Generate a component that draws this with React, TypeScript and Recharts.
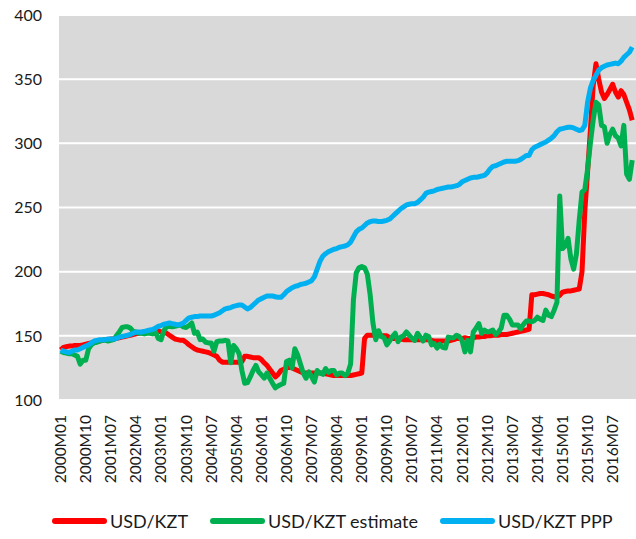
import { LineChart, Line, XAxis, YAxis, CartesianGrid, Legend } from 'recharts';

// monthly values, 2000M01 .. 2017M02
const usdKzt = [
  139, 141, 141.5, 142, 142, 142.5, 142.5, 142.5, 143, 143.5, 144, 144.5, // 2000
  145, 145.5, 146, 146.5, 147, 147, 147.5, 147.5, 148, 148.5, 149, 149.5, // 2001
  150, 150.5, 151, 151.5, 152, 152.5, 153, 153, 153.5, 153.5, 154, 154, // 2002
  153, 153, 152, 150.5, 149, 147.5, 147, 146.5, 146.5, 145, 143, 141.5, // 2003
  140, 139, 138.5, 138, 137.5, 137, 136, 135, 134, 131, 129.5, 129.5, // 2004
  129.5, 129.5, 129.5, 129.5, 129.5, 130, 134, 134, 133.5, 133, 133, 133, // 2005
  131.5, 129, 127, 124, 121, 118, 120, 123, 124, 125, 125.5, 125, // 2006
  124, 123, 122, 121, 121, 121, 121, 121, 121, 121, 121, 120.5, // 2007
  120, 119.5, 119, 119, 119, 119, 119, 119, 119, 119.5, 120, 120.5, // 2008
  121, 148, 150.5, 150.5, 150.5, 150, 150, 150, 150, 150, 148.5, 148, // 2009
  148, 148, 147.5, 147, 147, 147, 147, 147, 147, 147, 147, 147, // 2010
  147, 146.5, 146, 146, 146, 146, 146, 146, 146.5, 147, 148, 148, // 2011
  148, 148.5, 148, 148, 148.5, 149, 149, 149.5, 149.5, 150, 150, 150.5, // 2012
  150.5, 150.5, 151, 151, 151, 151.5, 152, 152.5, 153, 153.5, 154, 154.5, // 2013
  155, 182, 182, 182.5, 183, 183, 182.5, 182, 181, 180.5, 180.5, 181.5, // 2014
  184, 184.5, 185, 185, 185.5, 186, 186.5, 200, 247, 278, 310, 345, // 2015
  362, 350, 340, 335, 338, 342, 346, 340, 336, 341, 338, 332, // 2016
  326, 318, // 2017
];

const usdKztEstimate = [
  138, 137, 136.5, 136, 136, 135, 134, 128, 131, 131, 140, 143,
  144.5, 145, 146, 146.5, 146.5, 146, 146.5, 147, 150, 153, 156.5, 157,
  157, 156, 153.5, 153, 152, 152, 151.5, 152, 152, 151.5, 153, 148,
  147, 154, 157, 157.5, 157, 157.5, 158, 158.5, 157, 156.5, 158, 160,
  152, 153, 147, 147.5, 145, 144.5, 144.5, 138, 145.5, 146, 146, 146.5,
  146, 129, 142.5, 140, 136, 123, 113, 113.5, 118, 123, 127, 122,
  119.5, 117, 121, 117, 113, 109.5, 111, 112, 113, 130, 131, 125,
  140, 135, 128, 121, 117, 122, 118, 114, 123, 121, 120, 124.5,
  121.5, 123, 123, 119.5, 121, 121, 119, 121, 128, 178, 199, 203,
  204, 203, 198, 182, 160, 147, 154, 149.5, 148.5, 143, 146, 149.5,
  152, 145.5, 149, 150, 153, 150.5, 148, 146.5, 152, 149, 146, 150.5,
  149.5, 143, 144, 140.5, 143.5, 141, 140.5, 149, 148.5, 148.5, 150.5, 149.5,
  146, 137.5, 146.5, 137.5, 153, 156, 159.5, 152, 154.5, 153, 153.5, 154.5,
  151, 153, 156, 166, 166, 163, 158.5, 158.5, 158.5, 155.5, 159, 161.5,
  161.5, 161, 162, 164.5, 163, 162, 170, 166, 165, 170, 176, 259,
  218, 220, 226, 210, 202, 214, 240, 262, 264, 280, 300, 318,
  332, 330, 314, 313, 300, 307, 311, 306, 304, 298, 314, 276,
  272, 287,
];

const usdKztPpp = [
  139, 138, 137.5, 137, 138, 139, 139, 140, 141, 142, 143, 144.5,
  146, 146.5, 147, 147, 147, 147.5, 147.5, 147.5, 148, 149, 149.5, 150,
  150.5, 151, 152, 153, 153, 153, 153.5, 154, 154.5, 155, 156, 157.5,
  158, 159, 159.5, 160, 159.5, 159, 158.5, 159, 160, 162, 164, 164.5,
  165, 165, 165.5, 165.5, 165.5, 165.5, 165.5, 166, 167, 168, 169.5, 171,
  171.5, 172, 173, 173.5, 174, 174, 172.5, 171, 172, 174, 176, 178,
  179, 180, 181, 181, 181, 180.5, 180, 180, 182, 184.5, 186, 187.5,
  188.5, 189, 190, 190.5, 191, 192, 193, 196, 202, 208, 212, 214,
  215.5, 216.5, 217.5, 218, 219, 219.5, 220, 221, 223, 227, 231, 233,
  234, 236, 238, 239, 239.5, 239.5, 239, 239, 239.5, 240, 241, 243,
  245, 247, 249, 250.5, 252, 252.5, 253, 253, 254, 256, 258, 261,
  262, 262.5, 263, 264, 264.5, 265, 265.5, 266, 266, 266.5, 267, 268,
  270, 271, 272, 273, 273.5, 273.5, 274, 274.5, 275, 277, 280, 282,
  282.5, 283.5, 284.5, 285.5, 286, 286, 286, 286, 286.5, 287.5, 289, 290.5,
  290.5, 295, 297, 298, 299, 300, 301, 302.5, 304, 306, 309, 311,
  311.5, 312, 312.5, 312.5, 312, 311, 310, 310.5, 314, 332, 343, 349,
  353, 357, 359, 360, 361, 361.5, 362, 362.5, 362, 364, 367, 369,
  371, 375,
];

const months = usdKzt.map(
  (_, i) => `${2000 + Math.floor(i / 12)}M${String((i % 12) + 1).padStart(2, '0')}`
);

const yTicks = [100, 150, 200, 250, 300, 350, 400];

const SERIES = [
  { key: 'usdKzt', name: 'USD/KZT', color: '#ff0000' },
  { key: 'estimate', name: 'USD/KZT estimate', color: '#00b050' },
  { key: 'ppp', name: 'USD/KZT PPP', color: '#00b0f0' },
];

const data = months.map((month, i) => ({
  month,
  usdKzt: usdKzt[i],
  estimate: usdKztEstimate[i],
  ppp: usdKztPpp[i],
}));

const FONT = 'Lato, "Open Sans", sans-serif';
const TEXT = '#1a1a1a';

const MonthTick = ({ x, y, payload }: any) => (
  <g transform={`translate(${x},${y})`}>
    <text
      transform="rotate(-90)"
      x={-15}
      dy="0.35em"
      textAnchor="end"
      fill={TEXT}
      fontSize={15.5}
      fontFamily={FONT}
    >
      {payload.value}
    </text>
  </g>
);

const renderLegend = () => (
  <div
    style={{
      display: 'flex',
      alignItems: 'center',
      height: 30,
      paddingLeft: 52,
      fontFamily: FONT,
      fontSize: 18,
      color: TEXT,
      whiteSpace: 'nowrap',
    }}
  >
    {SERIES.map((s) => (
      <div
        key={s.key}
        style={{ display: 'flex', alignItems: 'center', marginRight: 22, flexShrink: 0 }}
      >
        <span
          style={{
            display: 'inline-block',
            width: 55,
            height: 6,
            borderRadius: 3,
            background: s.color,
            marginRight: 3,
          }}
        />
        {s.name}
      </div>
    ))}
  </div>
);

export default function App() {
  return (
    <div style={{ position: 'absolute', left: 0, top: 0 }}>
      <LineChart width={636} height={539} data={data} margin={{ top: 15, right: 0, bottom: 3, left: 0 }}>
        <CartesianGrid vertical={false} fill="#d9d9d9" stroke="#ffffff" strokeWidth={2} />
        <XAxis
          dataKey="month"
          interval={8}
          axisLine={false}
          tickLine={false}
          tickSize={0}
          tickMargin={0}
          height={106}
          padding={{ left: 1.7, right: 3.8 }}
          tick={<MonthTick />}
        />
        <YAxis
          domain={[100, 400]}
          ticks={yTicks}
          width={59}
          axisLine={false}
          tickLine={false}
          tickSize={0}
          tickMargin={17}
          tick={{ fill: TEXT, fontSize: 16, fontFamily: FONT }}
        />
        <Legend verticalAlign="bottom" content={renderLegend} />
        {SERIES.map((s) => (
          <Line
            key={s.key}
            type="linear"
            dataKey={s.key}
            name={s.name}
            stroke={s.color}
            strokeWidth={5}
            strokeLinejoin="round"
            dot={false}
            isAnimationActive={false}
          />
        ))}
      </LineChart>
    </div>
  );
}
